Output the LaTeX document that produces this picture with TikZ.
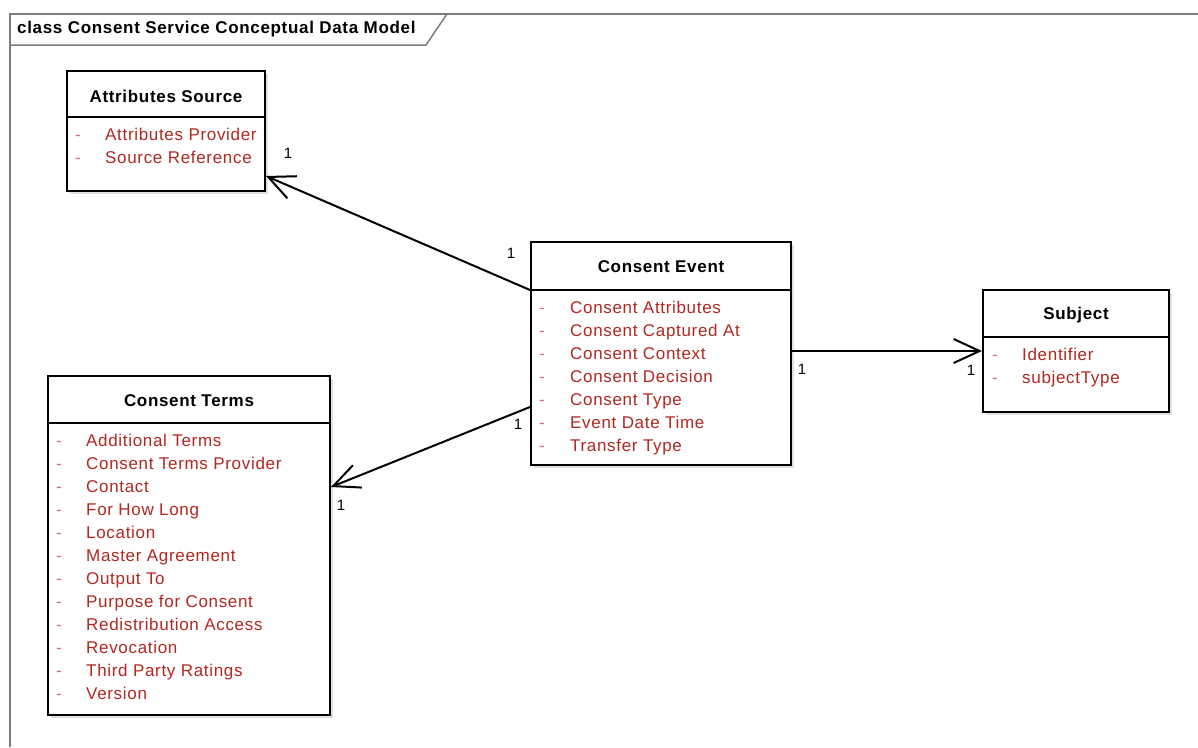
\documentclass[tikz,border=0pt]{standalone}
\usepackage{fontspec}
\setmainfont[LetterSpace=4]{Liberation Sans}
\usetikzlibrary{calc, arrows.meta, shadows}
\definecolor{attrred}{RGB}{178,40,32}
\definecolor{dashred}{RGB}{215,110,110}
\definecolor{framegray}{RGB}{125,125,125}
\tikzstyle{Class} = [
draw, line width=2pt, fill=white,
anchor=north west, inner sep=0pt,
drop shadow={shadow xshift=3pt, shadow yshift=-3pt, opacity=0.25}]
\tikzstyle{Title} = [font=\bfseries\fontsize{17}{20}\selectfont]
\tikzstyle{Attr} = [anchor=base west, inner sep=0pt, text=attrred,
font=\fontsize{17}{20}\selectfont]
\tikzstyle{Vis} = [anchor=base west, inner sep=0pt, text=dashred,
font=\fontsize{17}{20}\selectfont]
\tikzstyle{Mult} = [inner sep=0pt, font=\fontsize{15}{18}\selectfont]
\tikzstyle{Arrow} = [
line width=2pt,
-{Straight Barb[length=26pt, width=24pt]}]

\begin{document}
\begin{tikzpicture}[x=1pt, y=-1pt]
    \useasboundingbox (0,0) rectangle (1198,747);
    \draw[framegray, line width=1.5pt] (1198,14) -- (10,14) -- (10,747);
    \draw[framegray, line width=1.5pt] (10,45) -- (426,45) -- (447,14);
    \node [Title, anchor=west, inner sep=0pt] (0) at (17,29) {class Consent Service Conceptual Data Model};

    \node [Class, minimum width=198pt, minimum height=120pt] (1) at (66,70) {};
    \node [Class, minimum width=260pt, minimum height=223pt] (2) at (530,241) {};
    \node [Class, minimum width=186pt, minimum height=122pt] (3) at (982,289) {};
    \node [Class, minimum width=282pt, minimum height=339pt] (4) at (47,375) {};

    \node [Title] (1t) at ($(1.north)+(0,26)$) {Attributes Source};
    \node [Title] (2t) at ($(2.north)+(0,26)$) {Consent Event};
    \node [Title] (3t) at ($(3.north)+(0,26)$) {Subject};
    \node [Title] (4t) at ($(4.north)+(0,26)$) {Consent Terms};

    \draw[line width=2pt] ($(1.north west)+(0,47)$) -- ($(1.north east)+(0,47)$);
    \draw[line width=2pt] ($(2.north west)+(0,49)$) -- ($(2.north east)+(0,49)$);
    \draw[line width=2pt] ($(3.north west)+(0,48)$) -- ($(3.north east)+(0,48)$);
    \draw[line width=2pt] ($(4.north west)+(0,48)$) -- ($(4.north east)+(0,48)$);

    \foreach \a [count=\i] in {Attributes Provider, Source Reference} {
        \node [Vis] (1v\i) at ($(1.north west)+(9,47+23*\i)$) {-};
        \node [Attr] (1a\i) at ($(1.north west)+(39,47+23*\i)$) {\a};
    }
    \foreach \a [count=\i] in {Consent Attributes, Consent Captured At, Consent Context,
            Consent Decision, Consent Type, Event Date Time, Transfer Type} {
        \node [Vis] (2v\i) at ($(2.north west)+(9,49+23*\i)$) {-};
        \node [Attr] (2a\i) at ($(2.north west)+(40,49+23*\i)$) {\a};
    }
    \foreach \a [count=\i] in {Identifier, subjectType} {
        \node [Vis] (3v\i) at ($(3.north west)+(10,48+23*\i)$) {-};
        \node [Attr] (3a\i) at ($(3.north west)+(40,48+23*\i)$) {\a};
    }
    \foreach \a [count=\i] in {Additional Terms, Consent Terms Provider, Contact, For How Long,
            Location, Master Agreement, Output To, Purpose for Consent,
            Redistribution Access, Revocation, Third Party Ratings, Version} {
        \node [Vis] (4v\i) at ($(4.north west)+(9,48+23*\i)$) {-};
        \node [Attr] (4a\i) at ($(4.north west)+(39,48+23*\i)$) {\a};
    }

    \draw[Arrow] ($(2.north west)+(0,49)$) -- ($(1.north east)+(0,106)$);
    \draw[Arrow] ($(2.north east)+(0,110)$) -- ($(3.north west)+(0,62)$);
    \draw[Arrow] ($(2.north west)+(0,166)$) -- ($(4.north east)+(0,112)$);

    \node [Mult] (m1) at (288,153) {1};
    \node [Mult] (m2) at (511,253) {1};
    \node [Mult] (m3) at (802,369) {1};
    \node [Mult] (m4) at (971,370) {1};
    \node [Mult] (m5) at (518,424) {1};
    \node [Mult] (m6) at (341,505) {1};
\end{tikzpicture}
\end{document}
